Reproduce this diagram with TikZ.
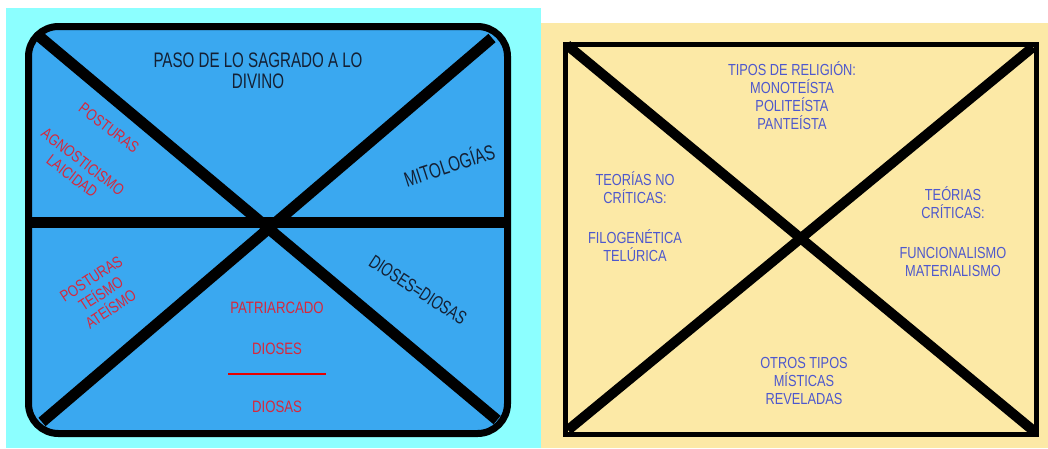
\documentclass[tikz,border=0pt]{standalone}
\usepackage{fontspec}
\setmainfont{Liberation Sans}[FakeStretch=0.8]
\newfontfamily\narrowsans{Liberation Sans}[FakeStretch=0.72]
\definecolor{panelcyan}{RGB}{140,255,255}
\definecolor{panelblue}{RGB}{58,168,240}
\definecolor{panelyellow}{RGB}{252,233,166}
\definecolor{darktext}{RGB}{20,32,52}
\definecolor{redtext}{RGB}{215,40,60}
\definecolor{bluetext}{RGB}{78,88,205}

\begin{document}
\begin{tikzpicture}[x=1pt, y=-1pt,
    darklabel/.style={text=darktext, align=center},
    redlabel/.style={text=redtext, align=center, font=\fontsize{16}{18}\selectfont},
    bluelabel/.style={text=bluetext, align=center, font=\fontsize{16}{18}\selectfont},
    crossline/.style={draw=black, line width=11pt}]

\useasboundingbox (0,0) rectangle (1048,448);
\fill[white] (0,0) rectangle (1048,448);

% left panel
\fill[panelcyan] (6,8) rectangle (541,448);
\filldraw[fill=panelblue, draw=black, line width=7pt, rounded corners=30pt] (28.5,26.5) rectangle (507.5,433.5);

\coordinate (lTL) at (40,37);
\coordinate (lTR) at (492,38);
\coordinate (lBL) at (42,422);
\coordinate (lBR) at (497,420);
\coordinate (lML) at (28.5,222.5);
\coordinate (lMR) at (507.5,222.5);

\draw[crossline] (lML) -- (lMR);
\draw[crossline] (lTL) -- (lBR);
\draw[crossline] (lTR) -- (lBL);

\node[darklabel, font=\narrowsans\fontsize{21}{21}\selectfont] (paso) at (258,71) {PASO DE LO SAGRADO A LO\\DIVINO};
\node[redlabel, rotate=-37.5] (posturasA) at (109,128) {POSTURAS};
\node[redlabel, rotate=-37.5] (agnostico) at (77.5,169) {AGNOSTICISMO\\LAICIDAD};
\node[darklabel, rotate=18, font=\narrowsans\fontsize{21}{21}\selectfont] (mitos) at (449,164) {MITOLOGÍAS};
\node[redlabel, rotate=33] (posturasB) at (101,294) {POSTURAS\\TEÍSMO\\ATEÍSMO};
\node[darklabel, rotate=-33, font=\narrowsans\fontsize{19}{19}\selectfont] (igualdad) at (418,290) {DIOSES=DIOSAS};

\node[redlabel, font=\fontsize{16.5}{18}\selectfont] (patriarcado) at (277,308) {PATRIARCADO};
\node[redlabel, font=\fontsize{16.5}{18}\selectfont] (dioses) at (277,349) {DIOSES};
\node[redlabel, font=\fontsize{16.5}{18}\selectfont] (diosas) at (277,407) {DIOSAS};
\coordinate (barL) at (228,374);
\coordinate (barR) at (326,374);
\draw[color=red!90!black, line width=1.2pt] (barL) -- (barR);

% right panel
\fill[panelyellow] (541,23) rectangle (1048,448);
\draw[line width=5pt] (565.5,44.5) rectangle (1036.5,434.5);

\coordinate (rTL) at (567,45);
\coordinate (rTR) at (1033,47);
\coordinate (rBL) at (568,430);
\coordinate (rBR) at (1035,432);

\draw[crossline, line width=10pt] (rTL) -- (rBR);
\draw[crossline, line width=10pt] (rTR) -- (rBL);

\node[bluelabel] (tipos) at (792,96) {TIPOS DE RELIGIÓN:\\MONOTEÍSTA\\POLITEÍSTA\\PANTEÍSTA};
\node[bluelabel] (nocriticas) at (635,217) {TEORÍAS NO\\CRÍTICAS:\\[22pt]FILOGENÉTICA\\TELÚRICA};
\node[bluelabel] (criticas) at (953,232) {TEÓRIAS\\CRÍTICAS:\\[22pt]FUNCIONALISMO\\MATERIALISMO};
\node[bluelabel] (otros) at (804,381) {OTROS TIPOS\\MÍSTICAS\\REVELADAS};

\end{tikzpicture}
\end{document}
